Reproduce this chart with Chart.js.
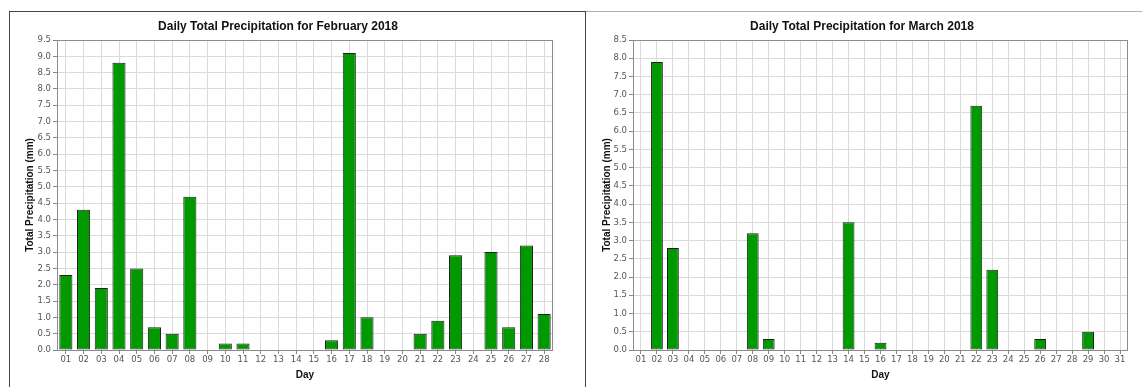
<!DOCTYPE html>
<html lang="en">
<head>
    <meta charset="UTF-8">
    <title>Daily Total Precipitation</title>
    <script src="https://cdn.jsdelivr.net/npm/chart.js"></script>
    <style>
        body { margin: 0; background: #fff; overflow: hidden; width: 1142px; height: 387px; position: relative; }
        #frame { position: absolute; left: 9px; top: 11px; width: 575px; height: 400px; border: 1px solid #444; border-bottom: none; }
        #rule { position: absolute; left: 586px; top: 11px; width: 560px; border-top: 1px solid #b0b0b0; }
        canvas { position: absolute; top: 0; }
        #feb-chart { left: 3px; }
        #mar-chart { left: 596px; }
    </style>
</head>
<body>
    <div id="frame"></div>
    <div id="rule"></div>
    <canvas id="feb-chart" width="590" height="387"></canvas>
    <canvas id="mar-chart" width="556" height="387"></canvas>

    <script>
        const febDays = ['01', '02', '03', '04', '05', '06', '07', '08', '09', '10', '11', '12', '13', '14',
            '15', '16', '17', '18', '19', '20', '21', '22', '23', '24', '25', '26', '27', '28'];
        const febPrecip = [2.3, 4.3, 1.9, 8.8, 2.5, 0.7, 0.5, 4.7, 0, 0.2, 0.2, 0, 0, 0,
            0, 0.3, 9.1, 1.0, 0, 0, 0.5, 0.9, 2.9, 0, 3.0, 0.7, 3.2, 1.1];

        const marDays = ['01', '02', '03', '04', '05', '06', '07', '08', '09', '10', '11', '12', '13', '14', '15',
            '16', '17', '18', '19', '20', '21', '22', '23', '24', '25', '26', '27', '28', '29', '30', '31'];
        const marPrecip = [0, 7.9, 2.8, 0, 0, 0, 0, 3.2, 0.3, 0, 0, 0, 0, 3.5, 0,
            0.2, 0, 0, 0, 0, 0, 6.7, 2.2, 0, 0, 0.3, 0, 0, 0.5, 0, 0];

        const febMax = 9.5, marMax = 8.5;

        // grey box round the plot area
        const plotFrame = {
            id: 'plotFrame',
            afterDraw(chart) {
                const { ctx, chartArea: a } = chart;
                ctx.save();
                ctx.strokeStyle = '#8c8c8c';
                ctx.lineWidth = 1;
                ctx.strokeRect(a.left + 0.5, a.top + 0.5, a.right - a.left - 1, a.bottom - a.top);
                ctx.restore();
            }
        };

        function makeChart(id, title, labels, values, yMax, o) {
            return new Chart(document.getElementById(id), {
                type: 'bar',
                data: {
                    labels,
                    datasets: [{
                        data: values,
                        backgroundColor: '#009a00',
                        borderColor: '#1e1e1e',
                        borderWidth: c => (c.raw ? 1 : 0),
                        borderSkipped: false,
                        barPercentage: 0.74,
                        categoryPercentage: 1
                    }]
                },
                options: {
                    responsive: false,
                    animation: false,
                    layout: { padding: { left: 0, right: o.padRight, top: 0, bottom: 0 } },
                    plugins: {
                        legend: { display: false },
                        tooltip: { enabled: false },
                        title: {
                            display: true,
                            text: title,
                            color: '#111',
                            font: { family: 'Liberation Sans', size: 12, weight: 'bold' },
                            padding: { top: 19, bottom: 6.6 }
                        }
                    },
                    scales: {
                        x: {
                            afterFit: s => { s.height = 37; },
                            grid: { color: '#dadada', offset: false, tickLength: 4, tickColor: '#888' },
                            border: { display: false },
                            ticks: {
                                autoSkip: false, maxRotation: 0, padding: 1, color: '#555',
                                font: { family: 'DejaVu Sans', size: 8.5 }
                            },
                            title: {
                                display: true, text: 'Day', color: '#111',
                                font: { family: 'Liberation Sans', size: 10, weight: 'bold' },
                                padding: { top: 0, bottom: 6 }
                            }
                        },
                        y: {
                            min: 0,
                            max: yMax,
                            afterFit: s => { s.width = o.axisWidth; },
                            grid: { color: '#dadada', tickLength: 4, tickColor: '#888' },
                            border: { display: false },
                            ticks: {
                                stepSize: 0.5, padding: 2, color: '#555',
                                font: { family: 'DejaVu Sans', size: 8.5 },
                                callback: v => v.toFixed(1)
                            },
                            title: {
                                display: true, text: 'Total Precipitation (mm)', color: '#111',
                                font: { family: 'Liberation Sans', size: 10, weight: 'bold' },
                                padding: { top: o.titlePad, bottom: 0 }
                            }
                        }
                    }
                },
                plugins: [plotFrame]
            });
        }

        makeChart('feb-chart', 'Daily Total Precipitation for February 2018', febDays, febPrecip, febMax,
            { padRight: 40, axisWidth: 54, titlePad: 21 });
        makeChart('mar-chart', 'Daily Total Precipitation for March 2018', marDays, marPrecip, marMax,
            { padRight: 24, axisWidth: 37, titlePad: 5 });
    </script>
</body>
</html>
